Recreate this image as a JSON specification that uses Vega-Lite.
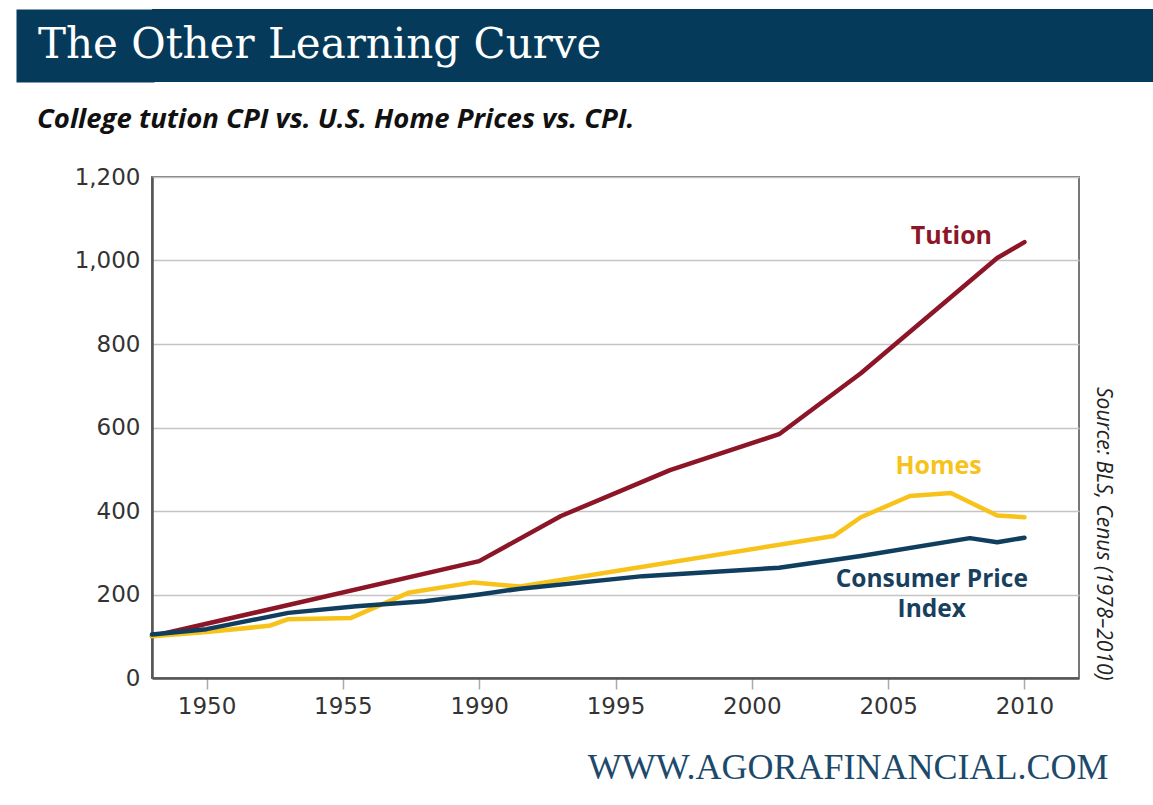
{
  "$schema": "https://vega.github.io/schema/vega-lite/v6.json",
  "background": "white",
  "padding": {"left": 15, "top": 9, "right": 0, "bottom": 5},
  "columns": 1,
  "spacing": 22,
  "concat": [
    {
      "width": 1002,
      "height": 73,
      "view": {"fill": "#053a5a", "stroke": null},
      "data": {"values": [{"label": "The Other Learning Curve"}]},
      "mark": {"type": "text", "align": "left", "baseline": "alphabetic", "font": "DejaVu Serif", "fontSize": 42, "color": "#ffffff"},
      "encoding": {
        "text": {"field": "label"},
        "x": {"datum": -0.1138, "type": "quantitative", "scale": {"domain": [0, 1], "nice": false, "zero": false}, "axis": null},
        "y": {
          "datum": 0.329,
          "type": "quantitative",
          "scale": {"domain": [0, 1], "nice": false, "zero": false},
          "axis": {
            "orient": "left",
            "labels": false,
            "ticks": false,
            "grid": false,
            "title": null,
            "domain": true,
            "domainColor": "#053a5a",
            "domainWidth": 138,
            "domainCap": "butt",
            "offset": 67
          }
        }
      }
    },
    {
      "width": 927,
      "height": 501,
      "title": {
        "text": "College tution CPI vs. U.S. Home Prices vs. CPI.",
        "anchor": "start",
        "frame": "group",
        "dx": -115,
        "offset": 33,
        "font": "Open Sans",
        "fontSize": 27.5,
        "fontWeight": "bold",
        "fontStyle": "italic",
        "color": "#111111"
      },
      "view": {"stroke": "#777777", "strokeWidth": 2},
      "resolve": {"axis": {"y": "independent"}},
      "layer": [
        {
          "data": {
            "values": [
              {"series": "Tution", "year": 1978, "value": 100},
              {"series": "Tution", "year": 1990, "value": 280},
              {"series": "Tution", "year": 1993, "value": 388},
              {"series": "Tution", "year": 1997, "value": 498},
              {"series": "Tution", "year": 2001, "value": 584},
              {"series": "Tution", "year": 2004, "value": 730},
              {"series": "Tution", "year": 2009, "value": 1006},
              {"series": "Tution", "year": 2010, "value": 1044},
              {"series": "Homes", "year": 1978, "value": 100},
              {"series": "Homes", "year": 1980, "value": 110},
              {"series": "Homes", "year": 1982.3, "value": 125},
              {"series": "Homes", "year": 1983, "value": 141},
              {"series": "Homes", "year": 1985.3, "value": 144},
              {"series": "Homes", "year": 1987.4, "value": 204},
              {"series": "Homes", "year": 1989.8, "value": 229},
              {"series": "Homes", "year": 1991.5, "value": 219},
              {"series": "Homes", "year": 2003, "value": 340},
              {"series": "Homes", "year": 2004, "value": 385},
              {"series": "Homes", "year": 2005.8, "value": 436},
              {"series": "Homes", "year": 2007.3, "value": 443},
              {"series": "Homes", "year": 2009, "value": 389},
              {"series": "Homes", "year": 2010, "value": 385},
              {"series": "CPI", "year": 1978, "value": 104},
              {"series": "CPI", "year": 1980, "value": 117},
              {"series": "CPI", "year": 1983, "value": 156},
              {"series": "CPI", "year": 1985.5, "value": 172},
              {"series": "CPI", "year": 1988, "value": 184},
              {"series": "CPI", "year": 1990, "value": 200},
              {"series": "CPI", "year": 1991.5, "value": 214},
              {"series": "CPI", "year": 1996, "value": 244},
              {"series": "CPI", "year": 2001, "value": 264},
              {"series": "CPI", "year": 2004, "value": 292},
              {"series": "CPI", "year": 2008, "value": 335},
              {"series": "CPI", "year": 2009, "value": 325},
              {"series": "CPI", "year": 2010, "value": 336}
            ]
          },
          "mark": {"type": "line", "strokeWidth": 4.5, "strokeCap": "round", "strokeJoin": "round"},
          "encoding": {
            "x": {
              "field": "year",
              "type": "quantitative",
              "scale": {"domain": [1978, 2012], "nice": false, "zero": false},
              "axis": {
                "orient": "bottom",
                "values": [1980, 1985, 1990, 1995, 2000, 2005, 2010],
                "format": "d",
                "labelExpr": "datum.value == 1980 ? '1950' : datum.value == 1985 ? '1955' : datum.label",
                "grid": false,
                "ticks": true,
                "tickSize": 11,
                "tickWidth": 1.5,
                "tickColor": "#aaaaaa",
                "domainColor": "#555555",
                "domainWidth": 2.5,
                "labelPadding": 6,
                "labelFont": "DejaVu Sans",
                "labelFontSize": 23,
                "labelColor": "#333333",
                "labelFlush": false,
                "title": "WWW.AGORAFINANCIAL.COM",
                "titleFont": "Liberation Serif",
                "titleFontSize": 36,
                "titleFontWeight": "normal",
                "titleColor": "#1d4a6b",
                "titleX": 956,
                "titleY": 100,
                "titleAlign": "right",
                "titleBaseline": "alphabetic",
                "titleAnchor": null
              }
            },
            "y": {
              "field": "value",
              "type": "quantitative",
              "scale": {"domain": [0, 1200], "nice": false, "zero": true},
              "axis": {
                "orient": "left",
                "values": [0, 200, 400, 600, 800, 1000, 1200],
                "format": ",.0f",
                "grid": true,
                "gridColor": "#c4c4c4",
                "gridWidth": 1.5,
                "ticks": false,
                "domainColor": "#555555",
                "domainWidth": 2.5,
                "labelPadding": 12,
                "labelFont": "DejaVu Sans",
                "labelFontSize": 23,
                "labelColor": "#333333",
                "labelFlush": false,
                "title": ".",
                "titleColor": "#ffffff",
                "titleFontSize": 10,
                "titleAngle": 0,
                "titleX": -136,
                "titleY": 0,
                "titleAlign": "left",
                "titleBaseline": "top"
              }
            },
            "color": {
              "field": "series",
              "type": "nominal",
              "scale": {"domain": ["Tution", "Homes", "CPI"], "range": ["#8c1627", "#f7c31b", "#0f3e5e"]},
              "legend": null
            }
          }
        },
        {
          "data": {"values": [{}]},
          "mark": {"type": "text", "text": "Tution", "align": "center", "baseline": "alphabetic", "font": "Open Sans", "fontWeight": "bold", "fontSize": 25, "color": "#8c1627"},
          "encoding": {
            "x": {"datum": 2007.32, "type": "quantitative"},
            "y": {
              "datum": 1039,
              "type": "quantitative",
              "axis": {
                "orient": "right",
                "labels": false,
                "ticks": false,
                "domain": false,
                "grid": false,
                "title": "Source: BLS, Cenus (1978–2010)",
                "titleAngle": 90,
                "titleFont": "Open Sans",
                "titleFontStyle": "italic",
                "titleFontWeight": "normal",
                "titleFontSize": 21,
                "titleColor": "#222222",
                "titleX": 17,
                "titleY": 503,
                "titleAlign": "right",
                "titleBaseline": "alphabetic"
              }
            }
          }
        },
        {
          "data": {"values": [{}]},
          "mark": {"type": "text", "text": "Homes", "align": "center", "baseline": "alphabetic", "font": "Open Sans", "fontWeight": "bold", "fontSize": 25, "color": "#f7c31b"},
          "encoding": {
            "x": {"datum": 2006.85, "type": "quantitative"},
            "y": {"datum": 489, "type": "quantitative", "axis": null}
          }
        },
        {
          "data": {"values": [{}]},
          "mark": {"type": "text", "text": ["Consumer Price", "Index"], "lineHeight": 30.5, "align": "center", "baseline": "alphabetic", "font": "Open Sans", "fontWeight": "bold", "fontSize": 24.5, "color": "#17405f"},
          "encoding": {
            "x": {"datum": 2006.6, "type": "quantitative"},
            "y": {"datum": 219, "type": "quantitative", "axis": null}
          }
        }
      ]
    }
  ]
}
